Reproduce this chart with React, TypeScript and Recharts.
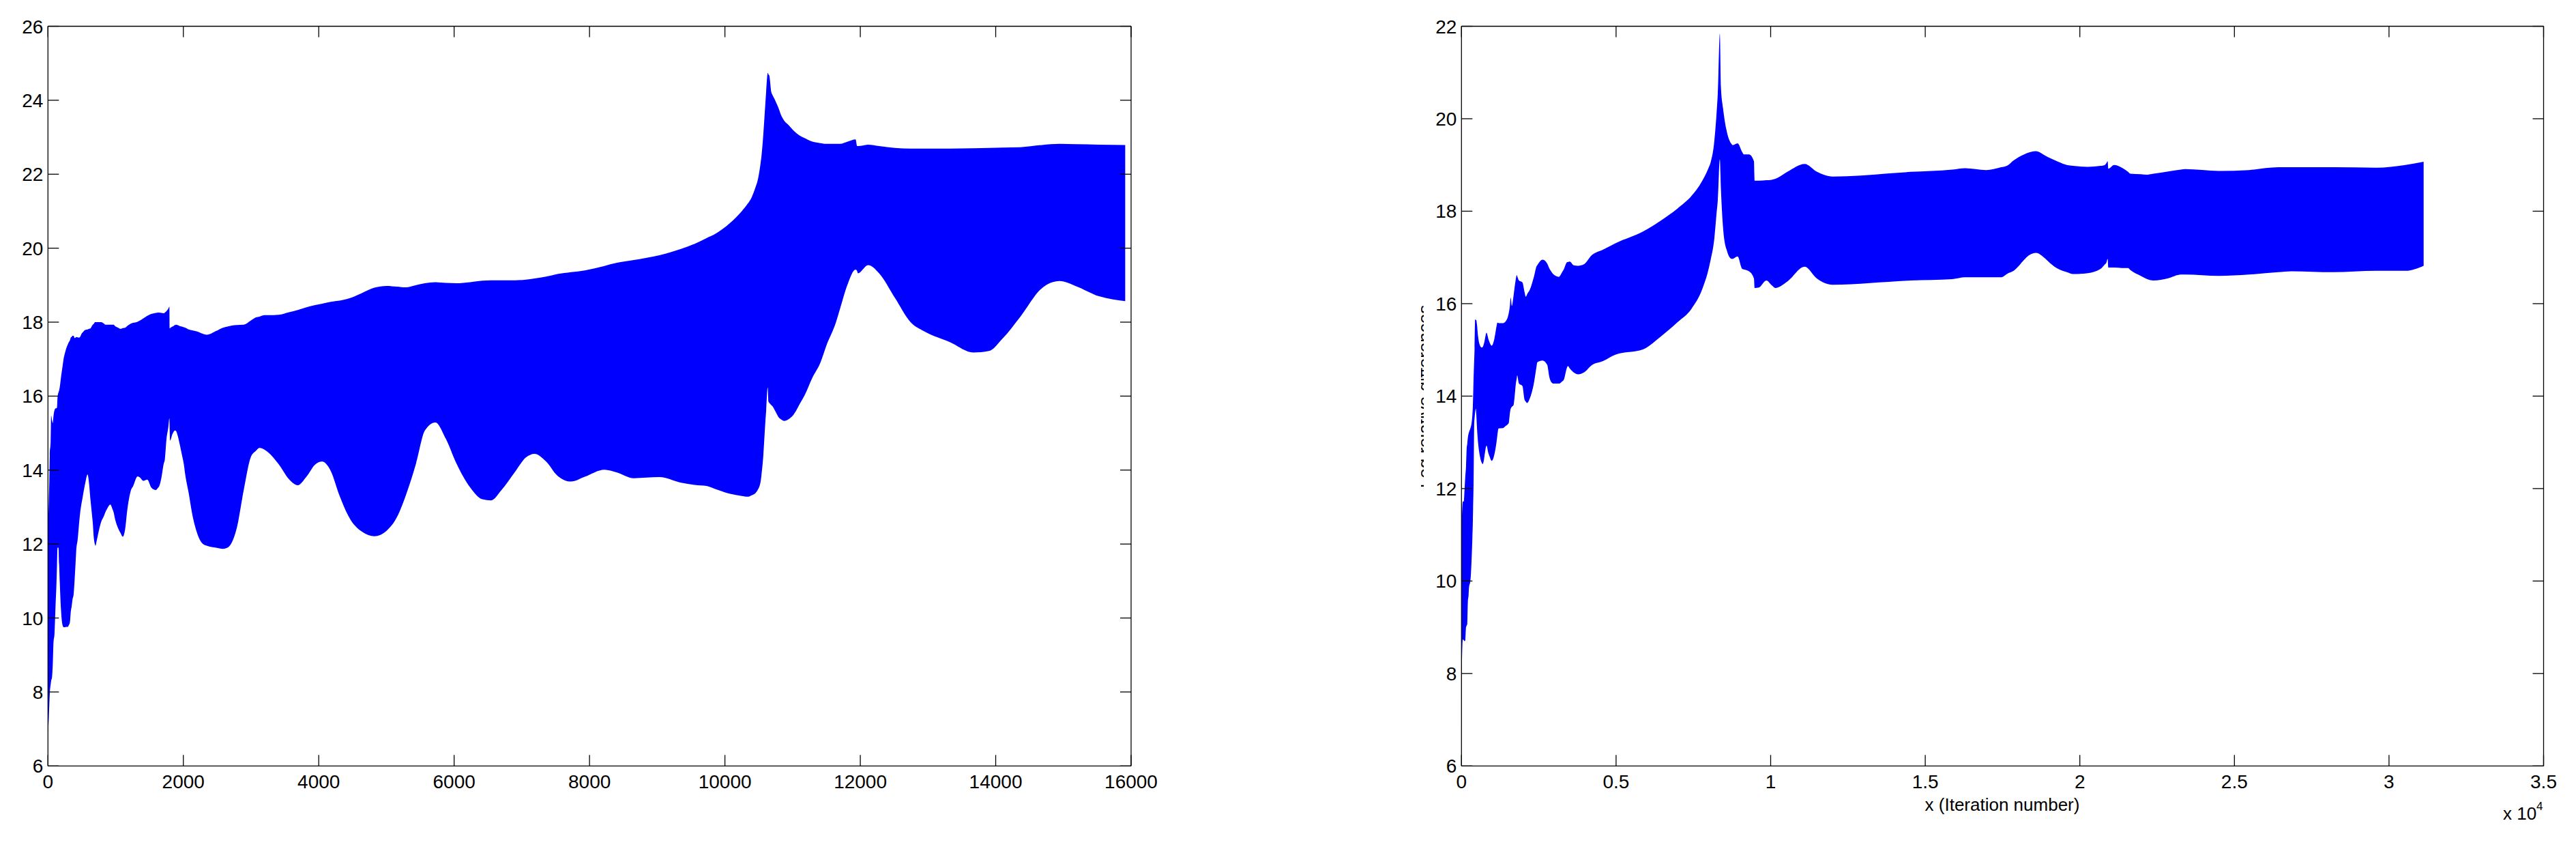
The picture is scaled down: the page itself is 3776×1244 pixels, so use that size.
import React from 'react';
import { AreaChart, Area, XAxis, YAxis } from 'recharts';

// left panel: upper and lower edge of the oscillation band
const leftX = [0, 13, 20, 27, 40, 47, 60, 71, 81, 97, 114, 124, 134, 141, 155, 165, 175, 192, 215, 232, 249, 272, 292, 306, 323, 339, 349, 363, 380, 393, 407, 417, 440, 457, 474, 501, 511, 551, 585, 608, 628, 635, 662, 679, 696, 702, 719, 763, 786, 820, 853, 870, 921, 954, 971, 988, 1038, 1072, 1105, 1139, 1173, 1206, 1223, 1257, 1324, 1357, 1408, 1441, 1468, 1525, 1593, 1626, 1643, 1677, 1710, 1727, 1751, 1777, 1794, 1798, 1804, 1838, 1878, 1895, 1912, 1952, 1979, 2006, 2029, 2080, 2130, 2197, 2265, 2349, 2483, 2584, 2651, 2718, 2789, 2892, 2995, 3072, 3124, 3201, 3252, 3407, 3561, 3690, 3818, 3947, 4050, 4179, 4307, 4462, 4642, 4822, 5002, 5156, 5285, 5439, 5568, 5722, 5877, 6031, 6237, 6417, 6546, 6700, 6906, 7060, 7189, 7359, 7525, 7728, 7930, 8220, 8394, 8655, 9032, 9351, 9554, 9727, 9843, 10075, 10249, 10336, 10394, 10452, 10481, 10527, 10539, 10568, 10597, 10609, 10628, 10632, 10643, 10655, 10684, 10701, 10742, 10800, 10829, 10875, 10945, 11003, 11119, 11177, 11293, 11409, 11496, 11641, 11699, 11814, 11930, 11953, 11965, 12116, 12278, 12510, 12742, 12945, 13322, 13670, 13901, 14104, 14365, 14684, 14945, 15177, 15525, 15913];
const leftLo = [6.84, 7.3, 7.65, 7.95, 8.2, 8.3, 8.4, 8.75, 9.31, 9.59, 10.42, 10.85, 11.46, 11.9, 11.9, 11.46, 10.94, 10.24, 9.81, 9.75, 9.75, 9.76, 9.76, 9.8, 9.87, 10.2, 10.3, 10.5, 10.65, 11.0, 11.46, 11.8, 12.14, 12.5, 12.82, 13.15, 13.25, 13.65, 13.88, 13.62, 13.2, 13.07, 12.57, 12.14, 11.98, 11.95, 12.08, 12.45, 12.6, 12.73, 12.88, 12.94, 13.07, 12.94, 12.85, 12.7, 12.42, 12.3, 12.2, 12.39, 12.94, 13.31, 13.44, 13.56, 13.83, 13.8, 13.71, 13.73, 13.74, 13.53, 13.46, 13.52, 13.56, 13.8, 14.17, 14.29, 14.84, 15.15, 15.4, 15.1, 14.8, 14.97, 15.07, 15.05, 14.96, 14.65, 14.41, 14.17, 13.86, 13.37, 12.82, 12.33, 12.05, 11.95, 11.9, 11.87, 11.9, 12.05, 12.43, 13.46, 14.34, 14.52, 14.6, 14.55, 14.48, 14.16, 13.75, 13.59, 13.82, 14.15, 14.23, 13.97, 13.31, 12.68, 12.33, 12.21, 12.36, 12.73, 13.31, 14.19, 15.07, 15.29, 14.85, 14.19, 13.53, 13.21, 13.18, 13.46, 13.97, 14.34, 14.44, 14.23, 13.85, 13.69, 13.82, 14.01, 13.94, 13.78, 13.81, 13.66, 13.6, 13.57, 13.5, 13.36, 13.3, 13.28, 13.32, 13.38, 13.45, 13.68, 13.85, 14.41, 15.29, 15.6, 16.2, 16.24, 15.85, 15.82, 15.76, 15.73, 15.6, 15.41, 15.37, 15.33, 15.38, 15.47, 15.83, 16.02, 16.5, 16.9, 17.35, 18.0, 18.35, 19.03, 19.42, 19.38, 19.32, 19.54, 19.32, 18.66, 18.0, 17.75, 17.46, 17.18, 17.22, 17.56, 18.15, 18.92, 19.11, 18.98, 18.7, 18.57];
const leftHi = [12.4, 13.2, 13.7, 14.4, 14.8, 15.47, 15.35, 15.27, 15.45, 15.62, 15.67, 15.67, 15.7, 15.95, 16.1, 16.15, 16.25, 16.5, 16.8, 17.02, 17.15, 17.3, 17.39, 17.45, 17.5, 17.59, 17.6, 17.63, 17.63, 17.57, 17.58, 17.6, 17.59, 17.58, 17.6, 17.7, 17.72, 17.79, 17.8, 17.82, 17.83, 17.85, 17.93, 17.96, 18.0, 18.0, 18.0, 18.0, 18.0, 17.97, 17.93, 17.93, 17.93, 17.93, 17.93, 17.9, 17.85, 17.82, 17.84, 17.85, 17.9, 17.94, 17.96, 17.98, 18.01, 18.04, 18.1, 18.14, 18.17, 18.22, 18.25, 18.26, 18.26, 18.25, 18.24, 18.26, 18.3, 18.36, 18.42, 17.83, 17.84, 17.88, 17.92, 17.93, 17.92, 17.89, 17.88, 17.86, 17.85, 17.8, 17.78, 17.75, 17.7, 17.66, 17.76, 17.85, 17.88, 17.91, 17.92, 17.93, 18.04, 18.13, 18.15, 18.19, 18.19, 18.2, 18.27, 18.33, 18.4, 18.46, 18.5, 18.55, 18.58, 18.65, 18.79, 18.93, 18.98, 18.96, 18.94, 19.0, 19.05, 19.08, 19.06, 19.05, 19.08, 19.12, 19.13, 19.13, 19.13, 19.15, 19.18, 19.23, 19.3, 19.35, 19.4, 19.52, 19.6, 19.68, 19.81, 19.98, 20.12, 20.27, 20.37, 20.68, 21.0, 21.2, 21.37, 21.65, 21.81, 22.3, 22.47, 23.1, 23.9, 24.23, 24.7, 24.74, 24.7, 24.67, 24.23, 24.15, 24.0, 23.75, 23.6, 23.45, 23.32, 23.2, 23.03, 22.98, 22.88, 22.84, 22.82, 22.82, 22.82, 22.88, 22.94, 22.76, 22.76, 22.8, 22.76, 22.71, 22.69, 22.69, 22.69, 22.7, 22.71, 22.72, 22.73, 22.79, 22.82, 22.81, 22.8, 22.79];

// right panel, x in units of 10^4 iterations
const rightX = [0, 0.0015, 0.0044, 0.0074, 0.0096, 0.012, 0.0147, 0.017, 0.0184, 0.0206, 0.023, 0.0243, 0.0287, 0.03, 0.033, 0.0353, 0.0368, 0.0375, 0.039, 0.0412, 0.042, 0.0442, 0.0464, 0.048, 0.05, 0.0537, 0.0596, 0.066, 0.0684, 0.072, 0.0743, 0.081, 0.0868, 0.0905, 0.098, 0.105, 0.114, 0.116, 0.12, 0.1347, 0.142, 0.151, 0.153, 0.157, 0.159, 0.163, 0.168, 0.172, 0.175, 0.179, 0.18, 0.186, 0.197, 0.204, 0.208, 0.212, 0.221, 0.235, 0.243, 0.245, 0.262, 0.277, 0.285, 0.294, 0.2965, 0.315, 0.328, 0.33, 0.342, 0.344, 0.35, 0.363, 0.3775, 0.396, 0.4216, 0.458, 0.499, 0.587, 0.643, 0.699, 0.744, 0.778, 0.8, 0.806, 0.818, 0.825, 0.829, 0.8356, 0.839, 0.846, 0.857, 0.874, 0.877, 0.893, 0.908, 0.913, 0.93, 0.946, 0.948, 0.962, 0.986, 1.003, 1.015, 1.054, 1.11, 1.15, 1.2, 1.452, 1.588, 1.629, 1.697, 1.745, 1.766, 1.786, 1.82, 1.827, 1.858, 1.889, 1.903, 1.93, 1.958, 1.978, 2.026, 2.067, 2.081, 2.086, 2.09, 2.092, 2.111, 2.136, 2.156, 2.163, 2.197, 2.218, 2.238, 2.286, 2.327, 2.341, 2.45, 2.547, 2.642, 2.684, 2.82, 2.958, 3.053, 3.112];
const rightLo = [6.5, 8.15, 8.74, 8.72, 8.7, 8.71, 9.0, 9.04, 9.06, 9.55, 9.7, 9.86, 10.0, 10.1, 10.52, 10.94, 11.3, 11.55, 12.06, 13.43, 13.5, 13.65, 13.73, 13.6, 13.33, 12.99, 12.7, 12.55, 12.53, 12.6, 12.7, 12.93, 12.77, 12.7, 12.6, 12.7, 13.04, 13.15, 13.3, 13.31, 13.35, 13.4, 13.42, 13.65, 13.72, 13.77, 13.8, 14.0, 14.22, 14.4, 14.45, 14.27, 14.22, 13.92, 13.88, 13.85, 13.95, 14.31, 14.65, 14.73, 14.77, 14.68, 14.39, 14.28, 14.27, 14.27, 14.33, 14.34, 14.63, 14.65, 14.6, 14.51, 14.47, 14.51, 14.67, 14.76, 14.9, 15.01, 15.28, 15.6, 15.89, 16.3, 16.77, 16.95, 17.42, 17.95, 18.24, 19.12, 18.5, 17.65, 17.18, 16.97, 16.97, 17.02, 16.75, 16.74, 16.7, 16.54, 16.34, 16.35, 16.5, 16.4, 16.34, 16.48, 16.8, 16.54, 16.41, 16.5, 16.53, 16.57, 16.57, 16.57, 16.65, 16.71, 16.95, 17.0, 17.1, 16.97, 16.88, 16.75, 16.68, 16.64, 16.66, 16.75, 16.85, 16.89, 16.97, 16.78, 16.78, 16.77, 16.77, 16.73, 16.6, 16.53, 16.5, 16.55, 16.63, 16.63, 16.6, 16.63, 16.68, 16.7, 16.68, 16.71, 16.71, 16.82];
const rightHi = [11.06, 11.4, 11.72, 11.72, 11.94, 12.23, 12.48, 12.89, 12.95, 13.1, 13.19, 13.22, 13.3, 13.33, 13.43, 13.6, 13.78, 13.95, 14.36, 14.8, 14.95, 15.66, 15.65, 15.64, 15.55, 15.29, 15.1, 15.05, 15.06, 15.12, 15.18, 15.37, 15.24, 15.17, 15.09, 15.2, 15.53, 15.59, 15.58, 15.58, 15.61, 15.74, 15.8, 15.98, 16.13, 15.95, 16.15, 16.36, 16.5, 16.62, 16.6, 16.5, 16.46, 16.25, 16.15, 16.2, 16.3, 16.6, 16.81, 16.83, 16.95, 16.87, 16.75, 16.66, 16.64, 16.58, 16.71, 16.73, 16.9, 16.9, 16.91, 16.83, 16.82, 16.85, 17.05, 17.17, 17.31, 17.56, 17.79, 18.06, 18.33, 18.65, 18.95, 19.06, 19.53, 20.11, 20.55, 21.84, 20.7, 20.23, 19.76, 19.45, 19.43, 19.47, 19.28, 19.23, 19.23, 19.08, 18.66, 18.66, 18.67, 18.68, 18.7, 18.85, 19.02, 18.85, 18.75, 18.85, 18.9, 18.93, 18.89, 18.95, 18.99, 19.1, 19.23, 19.25, 19.3, 19.2, 19.15, 19.07, 19.0, 18.98, 18.96, 18.98, 19.0, 19.04, 19.08, 18.92, 19.0, 18.94, 18.85, 18.81, 18.8, 18.79, 18.81, 18.86, 18.9, 18.91, 18.87, 18.89, 18.95, 18.95, 18.95, 18.94, 19.0, 19.07];

const leftXTicks = [0, 2000, 4000, 6000, 8000, 10000, 12000, 14000, 16000];
const leftYTicks = [6, 8, 10, 12, 14, 16, 18, 20, 22, 24, 26];
const rightXTicks = [0, 0.5, 1, 1.5, 2, 2.5, 3, 3.5];
const rightYTicks = [6, 8, 10, 12, 14, 16, 18, 20, 22];

const leftData = leftX.map((x, i) => ({ x, band: [leftLo[i], leftHi[i]] }));
const rightData = rightX.map((x, i) => ({ x, band: [rightLo[i], rightHi[i]] }));

const FONT = '"Liberation Sans", Arial, sans-serif';
const TICK_LEN = 16;
const lineProps = { stroke: '#000', strokeWidth: 1.3 };

const BottomTick = ({ x, y, payload }: any) => (
  <g>
    <line x1={x} y1={y} x2={x} y2={y - TICK_LEN} {...lineProps} />
    <text x={x} y={y + 33} textAnchor="middle" fontSize={28} fontFamily={FONT} fill="#000">{payload.value}</text>
  </g>
);
const TopTick = ({ x, y }: any) => <line x1={x} y1={y} x2={x} y2={y + TICK_LEN} {...lineProps} />;
const LeftTick = ({ x, y, payload }: any) => (
  <g>
    <line x1={x} y1={y} x2={x + TICK_LEN} y2={y} {...lineProps} />
    <text x={x - 7} y={y + 10} textAnchor="end" fontSize={28} fontFamily={FONT} fill="#000">{payload.value}</text>
  </g>
);
const RightTick = ({ x, y }: any) => <line x1={x} y1={y} x2={x - TICK_LEN} y2={y} {...lineProps} />;

// y label of the right panel only survives as a thin clipped sliver
const ClippedYLabel = () => (
  <g>
    <defs>
      <clipPath id="ylabel-clip">
        <rect x={283} y={430} width={4} height={300} />
      </clipPath>
    </defs>
    <g clipPath="url(#ylabel-clip)">
      <text
        transform="translate(297 581) rotate(-90)"
        textAnchor="middle"
        fontSize={26}
        fontFamily={FONT}
        fill="#000"
      >
        Log relative differences
      </text>
    </g>
  </g>
);

const XLabels = () => (
  <g fontFamily={FONT} fill="#000">
    <text x={1135} y={1188} textAnchor="middle" fontSize={26}>x (Iteration number)</text>
    <text x={1869} y={1201} fontSize={26}>x 10</text>
    <text x={1918} y={1187} fontSize={17}>4</text>
  </g>
);

const Panel = ({ left, width, plotLeft, plotRight, data, xTicks, yTicks, xMax, yMax, xLabel, yLabel }: any) => (
  <div style={{ position: 'absolute', left, top: 0 }}>
    <AreaChart
      width={width}
      height={1244}
      data={data}
      margin={{ top: 37.5, left: plotLeft - 1, right: width - plotRight - 1, bottom: 120.7 }}
    >
      <XAxis
        dataKey="x"
        type="number"
        domain={[0, xMax]}
        ticks={xTicks}
        height={1}
        tickSize={0}
        tickMargin={0}
        tickLine={false}
        axisLine={lineProps}
        tick={<BottomTick />}
        interval={0}
        allowDataOverflow
        label={xLabel}
      />
      <XAxis
        xAxisId="top"
        orientation="top"
        dataKey="x"
        type="number"
        domain={[0, xMax]}
        ticks={xTicks}
        height={1}
        tickSize={0}
        tickMargin={0}
        tickLine={false}
        axisLine={lineProps}
        tick={<TopTick />}
        interval={0}
        allowDataOverflow
      />
      <YAxis
        type="number"
        domain={[6, yMax]}
        ticks={yTicks}
        width={1}
        tickSize={0}
        tickMargin={0}
        tickLine={false}
        axisLine={lineProps}
        tick={<LeftTick />}
        interval={0}
        allowDataOverflow
        label={yLabel}
      />
      <YAxis
        yAxisId="right"
        orientation="right"
        type="number"
        domain={[6, yMax]}
        ticks={yTicks}
        width={1}
        tickSize={0}
        tickMargin={0}
        tickLine={false}
        axisLine={lineProps}
        tick={<RightTick />}
        interval={0}
        allowDataOverflow
      />
      <Area
        dataKey="band"
        type="monotoneX"
        stroke="none"
        fill="#0000ff"
        fillOpacity={1}
        dot={false}
        activeDot={false}
        isAnimationActive={false}
      />
    </AreaChart>
  </div>
);

export default function App() {
  return (
    <div style={{ position: 'absolute', left: 0, top: 0, width: 3776, height: 1244, background: '#fff', overflow: 'hidden' }}>
      <Panel
        left={0}
        width={1800}
        plotLeft={70.3}
        plotRight={1658}
        data={leftData}
        xTicks={leftXTicks}
        yTicks={leftYTicks}
        xMax={16000}
        yMax={26}
      />
      <Panel
        left={1800}
        width={1976}
        plotLeft={342.3}
        plotRight={1928.5}
        data={rightData}
        xTicks={rightXTicks}
        yTicks={rightYTicks}
        xMax={3.5}
        yMax={22}
        xLabel={{ content: () => <XLabels /> }}
        yLabel={{ content: () => <ClippedYLabel /> }}
      />
    </div>
  );
}
